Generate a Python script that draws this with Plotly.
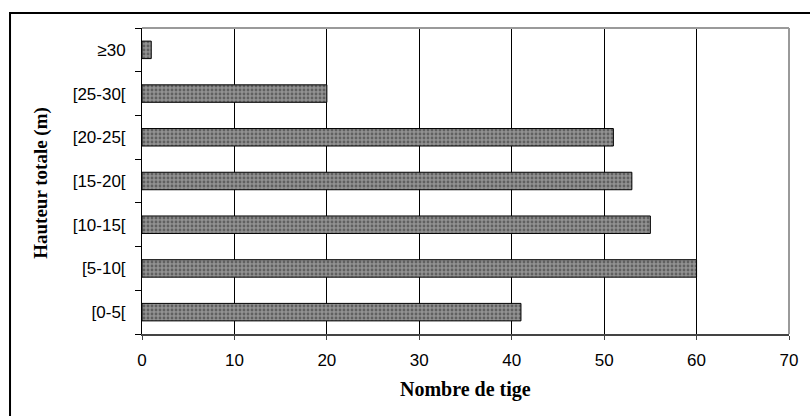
import plotly.graph_objects as go

categories = ["[0-5[", "[5-10[", "[10-15[", "[15-20[", "[20-25[", "[25-30[", "≥30"]
values = [41, 60, 55, 53, 51, 20, 1]
x_ticks = [0, 10, 20, 30, 40, 50, 60, 70]

W, H = 810, 416
L, R, T, B = 142, 16, 28, 82
pw, ph = W - L - R, H - T - B

def px(x):
    return (x - L) / pw

def py(y):
    return (H - B - y) / ph

fig = go.Figure()
fig.add_trace(go.Bar(
    x=values, y=categories, orientation="h", width=0.4,
    marker=dict(color="#8a8a8a",
                line=dict(color="#000000", width=1),
                pattern=dict(shape=".", fgcolor="#2e2e2e", bgcolor="#929292",
                             size=4, solidity=0.4)),
    showlegend=False,
))

fig.update_layout(
    width=W, height=H,
    margin=dict(l=L, r=R, t=T, b=B),
    paper_bgcolor="white", plot_bgcolor="white",
    font=dict(family="Liberation Sans, Arial", size=17, color="#000"),
    xaxis=dict(range=[0, 70], tickvals=x_ticks, showgrid=True, gridcolor="#000",
               gridwidth=1, zeroline=False, showline=True, linecolor="#444",
               linewidth=2, ticks="outside", ticklen=4, tickcolor="#444",
               ticklabelstandoff=6, tickfont=dict(size=17)),
    yaxis=dict(type="category", categoryorder="array", categoryarray=categories,
               showgrid=False, zeroline=False, showline=True, linecolor="#000",
               linewidth=1, ticks="outside", ticklen=6, tickcolor="#000",
               tickson="boundaries", ticklabelstandoff=12,
               tickfont=dict(size=17)),
    bargap=0.6,
)

# axis titles
fig.add_annotation(text="<b>Nombre de tige</b>", xref="paper", yref="paper",
                   x=px(468), y=py(389), xanchor="center", yanchor="middle",
                   showarrow=False,
                   font=dict(family="Liberation Serif, Times New Roman", size=20, color="#000"))
fig.add_annotation(text="<b>Hauteur totale (m)</b>", xref="paper", yref="paper",
                   x=px(40), y=py(183), xanchor="center", yanchor="middle",
                   showarrow=False, textangle=-90,
                   font=dict(family="Liberation Serif, Times New Roman", size=19, color="#000"))

# plot area top/right grey border
fig.add_shape(type="line", xref="paper", yref="paper", x0=0, x1=1, y0=1, y1=1,
              line=dict(color="#9a9a9a", width=2))
fig.add_shape(type="line", xref="paper", yref="paper", x0=1, x1=1, y0=0, y1=1,
              line=dict(color="#9a9a9a", width=2))
# outer chart frame
fig.add_shape(type="rect", xref="paper", yref="paper",
              x0=px(9), x1=px(830), y0=py(13), y1=py(440),
              line=dict(color="#000", width=2), layer="above")

fig.write_html("out.html")
